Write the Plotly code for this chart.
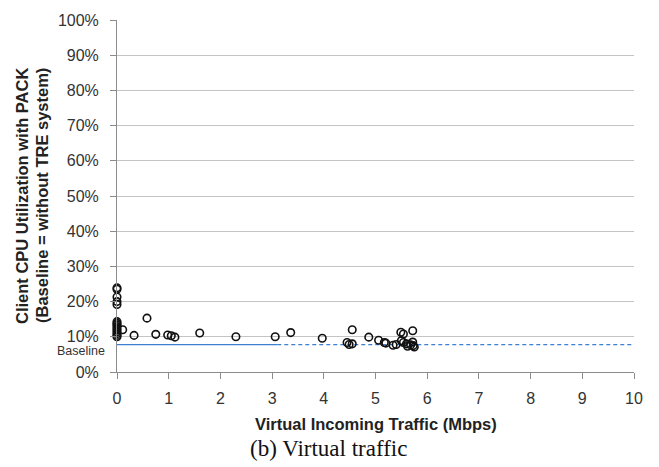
import plotly.graph_objects as go

# Data
traffic_mbps = [0, 0, 0, 0, 0, 0, 0, 0, 0, 0, 0, 0, 0, 0, 0,
                0.11, 0.33, 0.58, 0.75, 0.98, 1.05, 1.12, 1.6, 2.3, 3.06,
                3.36, 3.97, 4.45, 4.49, 4.55, 4.55, 4.87, 5.06, 5.17, 5.2,
                5.34, 5.4, 5.49, 5.54, 5.5, 5.54, 5.6, 5.62, 5.72, 5.72,
                5.73, 5.75, 5.68]
cpu_util_pct = [23.9, 23.5, 21.3, 20.0, 19.2, 14.3, 13.8, 13.4, 12.9, 12.4, 11.9, 11.4, 10.9, 10.4, 10.0,
                12.0, 10.4, 15.3, 10.7, 10.5, 10.3, 9.9, 11.1, 10.0, 10.0,
                11.2, 9.6, 8.4, 7.8, 12.0, 8.0, 9.9, 9.0, 8.4, 8.2,
                7.6, 7.8, 11.3, 10.8, 8.9, 8.4, 8.0, 7.3, 11.7, 8.5,
                7.5, 7.1, 7.7]
baseline_pct = 7.8
baseline_solid_x = [0, 3.1]
baseline_dash_x = [3.1, 10]
x_ticks = list(range(0, 11))
y_ticks = list(range(0, 101, 10))
y_tick_labels = [f"{v}%" for v in y_ticks]

fig = go.Figure()
fig.add_trace(go.Scatter(x=baseline_solid_x, y=[baseline_pct] * 2, mode="lines",
                         line=dict(color="#3f7fcf", width=1.3), hoverinfo="skip", showlegend=False))
fig.add_trace(go.Scatter(x=baseline_dash_x, y=[baseline_pct] * 2, mode="lines",
                         line=dict(color="#3f7fcf", width=1.3, dash="4px,3px"), hoverinfo="skip", showlegend=False))
fig.add_trace(go.Scatter(x=traffic_mbps, y=cpu_util_pct, mode="markers",
                         marker=dict(symbol="circle-open", size=7.5, color="#111111", line=dict(width=1.6)),
                         cliponaxis=False, showlegend=False))

SANS = "Liberation Sans, Arial"
fig.add_annotation(x=0, y=6.1, xref="x", yref="y", text="Baseline", showarrow=False,
                   xanchor="right", yanchor="middle", xshift=-10,
                   font=dict(family=SANS, size=12.5, color="#333333"))
# y-axis title (two lines)
fig.add_annotation(x=0, y=0.5, xref="paper", yref="paper", text="<b>Client CPU Utilization with PACK</b>",
                   showarrow=False, textangle=-90, xanchor="center", yanchor="middle", xshift=-95,
                   font=dict(family=SANS, size=16.5, color="#222222"))
fig.add_annotation(x=0, y=0.5, xref="paper", yref="paper", text="<b>(Baseline = without TRE system)</b>",
                   showarrow=False, textangle=-90, xanchor="center", yanchor="middle", xshift=-75,
                   font=dict(family=SANS, size=16.5, color="#222222"))
# x-axis title
fig.add_annotation(x=0.5, y=-0.1485, xref="paper", yref="paper", text="<b>Virtual Incoming Traffic (Mbps)</b>",
                   showarrow=False, xanchor="center", yanchor="middle",
                   font=dict(family=SANS, size=16.5, color="#222222"))
# caption
fig.add_annotation(x=0.41, y=-0.218, xref="paper", yref="paper", text="(b) Virtual traffic",
                   showarrow=False, xanchor="center", yanchor="middle",
                   font=dict(family="Liberation Serif, Times New Roman", size=23, color="#111111"))

fig.update_layout(
    width=659, height=467,
    margin=dict(l=117, r=25, t=15, b=95),
    plot_bgcolor="white", paper_bgcolor="white",
    font=dict(family=SANS, color="#333333"),
    xaxis=dict(range=[0, 10], tickvals=x_ticks, showgrid=False, zeroline=False,
               showline=True, linecolor="#8c8c8c", linewidth=1,
               ticks="outside", ticklen=6, tickcolor="#8c8c8c", ticklabelstandoff=6,
               tickfont=dict(size=16, color="#333333")),
    yaxis=dict(range=[0, 100], tickvals=y_ticks, ticktext=y_tick_labels, showgrid=True,
               gridcolor="#c4c4c4", gridwidth=1, zeroline=False,
               showline=True, linecolor="#8c8c8c", linewidth=1,
               ticks="outside", ticklen=6, tickcolor="#8c8c8c", ticklabelstandoff=8,
               tickfont=dict(size=16, color="#333333")),
)

fig.write_html("out.html")
